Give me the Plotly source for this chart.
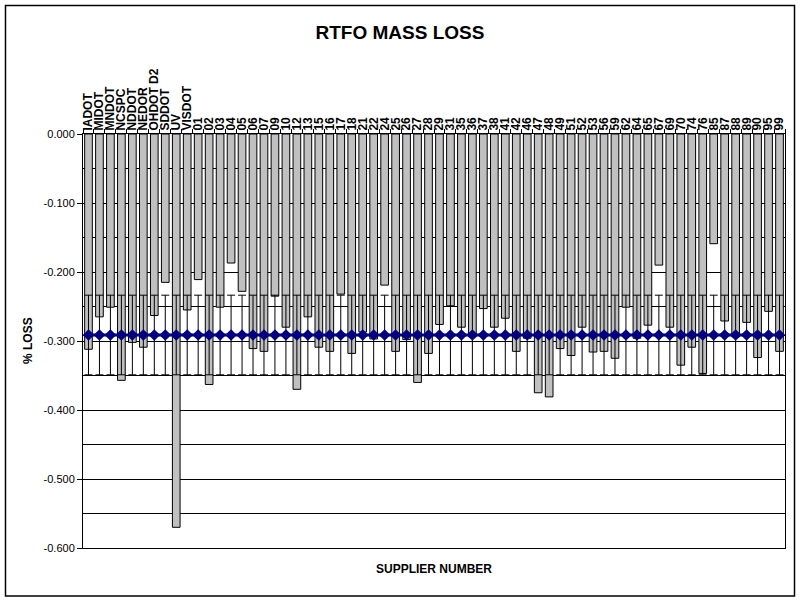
import plotly.graph_objects as go

categories = ["IADOT", "MIDOT", "MNDOT", "NCSPC", "NDDOT", "NEDOR", "OHDOT D2", "SDDOT", "UV", "VISDOT",
              "01", "02", "03", "04", "05", "06", "07", "09", "10", "12",
              "13", "15", "16", "17", "18", "21", "22", "24", "25", "26",
              "27", "28", "29", "31", "35", "36", "37", "38", "41", "42",
              "46", "47", "48", "49", "51", "52", "53", "56", "59", "62",
              "64", "65", "67", "69", "70", "74", "76", "85", "87", "88",
              "89", "90", "95", "99"]

mass_loss = [-0.312, -0.265, -0.251, -0.357, -0.302, -0.309, -0.263, -0.215, -0.570, -0.255,
             -0.211, -0.363, -0.251, -0.187, -0.228, -0.311, -0.315, -0.235, -0.280, -0.370,
             -0.265, -0.309, -0.315, -0.232, -0.318, -0.287, -0.297, -0.219, -0.315, -0.298,
             -0.360, -0.318, -0.276, -0.249, -0.280, -0.294, -0.253, -0.280, -0.267, -0.315,
             -0.296, -0.375, -0.381, -0.311, -0.321, -0.280, -0.316, -0.315, -0.325, -0.251,
             -0.296, -0.277, -0.190, -0.280, -0.335, -0.309, -0.347, -0.159, -0.271, -0.294,
             -0.273, -0.324, -0.257, -0.315]

spec_mean = [-0.2913] * len(categories)
spec_tol = [0.0577] * len(categories)

y_tickvals = [0.0, -0.1, -0.2, -0.3, -0.4, -0.5, -0.6]
y_ticktext = ["0.000", "-0.100", "-0.200", "-0.300", "-0.400", "-0.500", "-0.600"]

FONT = "Arial, Liberation Sans, sans-serif"

# plot area in pixels
L, R, T, B = 83, 785, 134, 548
W, H = 800, 600


def px_x(p):
    return (p - L) / (R - L)


def px_y(p):
    return (B - p) / (B - T)


fig = go.Figure()
fig.add_trace(go.Bar(
    x=categories, y=mass_loss,
    marker=dict(color="#C0C0C0", line=dict(color="black", width=1)),
    showlegend=False,
))
fig.add_trace(go.Scatter(
    x=categories, y=spec_mean,
    mode="lines+markers",
    line=dict(color="#000080", width=3),
    marker=dict(symbol="diamond", size=9, color="#000080"),
    error_y=dict(type="data", array=spec_tol, symmetric=True, color="black", thickness=1, width=4),
    showlegend=False,
))

fig.update_layout(
    width=W, height=H,
    margin=dict(l=L, r=W - R, t=T, b=H - B, autoexpand=False),
    paper_bgcolor="white", plot_bgcolor="white",
    bargap=0.3,
    font=dict(family=FONT, color="black"),
    title=dict(text="<b>RTFO MASS LOSS</b>", font=dict(size=19, family=FONT, color="black"),
               x=0.5, xref="container", y=1 - 32 / H, yref="container", xanchor="center", yanchor="middle"),
    xaxis=dict(
        side="top", type="category", tickangle=-90, range=[-0.5, len(categories) - 0.5],
        tickmode="array", tickvals=categories, ticktext=categories,
        tickfont=dict(size=12, family=FONT, color="black", weight="bold"),
        ticks="outside", tickson="boundaries", ticklen=4, tickcolor="black",
        showline=True, linecolor="black", linewidth=1, mirror=True,
        showgrid=False, zeroline=False, automargin=False,
    ),
    yaxis=dict(
        range=[-0.6, 0], tickmode="array", tickvals=y_tickvals, ticktext=y_ticktext,
        tickfont=dict(size=11, family=FONT, color="black"),
        ticks="outside", ticklen=5, tickcolor="black",
        showline=True, linecolor="black", linewidth=1, mirror=True,
        showgrid=True, gridcolor="black", gridwidth=1, zeroline=False, automargin=False,
        minor=dict(dtick=0.05, tick0=0, showgrid=True, gridcolor="black", gridwidth=1, ticks=""),
    ),
    annotations=[
        dict(text="<b>SUPPLIER NUMBER</b>", x=0.5, y=px_y(569), xref="paper", yref="paper",
             showarrow=False, font=dict(size=12, family=FONT, color="black"), xanchor="center", yanchor="middle"),
        dict(text="<b>% LOSS</b>", x=px_x(28), y=px_y(341), xref="paper", yref="paper", textangle=-90,
             showarrow=False, font=dict(size=12, family=FONT, color="black"), xanchor="center", yanchor="middle"),
    ],
    shapes=[
        dict(type="rect", xref="paper", yref="paper", x0=px_x(5.5), x1=px_x(794.5), y0=px_y(596), y1=px_y(5.5),
             line=dict(color="black", width=1.5), fillcolor="rgba(0,0,0,0)", layer="below"),
    ],
)

fig.write_html("out.html", config={"displayModeBar": False},
               post_script="document.body.style.margin='0';document.body.style.overflow='hidden';")
